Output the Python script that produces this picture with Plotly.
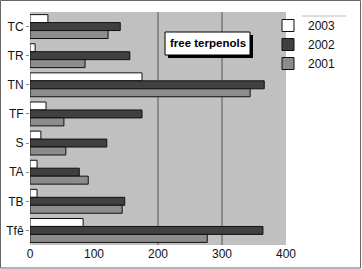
import plotly.graph_objects as go

categories = ["TC", "TR", "TN", "TF", "S", "TA", "TB", "Tfê"]
v2003 = [28, 8, 175, 25, 17, 11, 11, 83]
v2002 = [141, 156, 366, 175, 120, 77, 148, 364]
v2001 = [122, 86, 344, 53, 56, 91, 144, 277]
x_ticks = [0, 100, 200, 300, 400]

W, H = 362, 269
L, R, T, B = 30, 76, 12, 24
pw, ph = W - L - R, H - T - B

fig = go.Figure()
for name, vals, col in [("2003", v2003, "#ffffff"), ("2002", v2002, "#404040"), ("2001", v2001, "#8c8c8c")]:
    fig.add_trace(go.Bar(y=categories, x=vals, name=name, orientation="h",
                         marker=dict(color=col, line=dict(color="#111111", width=1))))

def px_x(p):
    return (p - L) / pw

def px_y(p):
    return (H - B - p) / ph

shapes = []
for g in [200, 300]:
    shapes.append(dict(type="line", xref="x", yref="paper", x0=g, x1=g, y0=0, y1=1,
                       line=dict(color="#555555", width=1), layer="below"))
# outer border
shapes.append(dict(type="rect", xref="paper", yref="paper", x0=px_x(0.5), x1=px_x(360.5),
                   y0=px_y(268), y1=px_y(0.5), line=dict(color="#666666", width=1)))
# label shadow
shapes.append(dict(type="rect", xref="paper", yref="paper", x0=px_x(168), x1=px_x(253),
                   y0=px_y(58), y1=px_y(35), fillcolor="#000000", line=dict(width=0)))
shapes.append(dict(type="rect", xref="paper", yref="paper", x0=px_x(165), x1=px_x(250),
                   y0=px_y(55), y1=px_y(32), fillcolor="#ffffff", line=dict(color="#000000", width=1)))
# legend top line
shapes.append(dict(type="line", xref="paper", yref="paper", x0=px_x(302), x1=px_x(346),
                   y0=px_y(16), y1=px_y(16), line=dict(color="#bbbbbb", width=1)))

fig.update_layout(
    width=W, height=H,
    margin=dict(l=L, r=R, t=T, b=B, pad=0, autoexpand=False),
    paper_bgcolor="white", plot_bgcolor="#c0c0c0",
    barmode="group", bargap=0.18, bargroupgap=0,
    font=dict(family="Liberation Sans, Arial, sans-serif", size=12, color="#111111"),
    xaxis=dict(range=[0, 400], tickvals=x_ticks, showgrid=False, zeroline=False,
               ticks="", tickfont=dict(size=12), automargin=False),
    yaxis=dict(autorange="reversed", showgrid=False, ticks="outside", ticklen=3,
               tickcolor="#888888", tickfont=dict(size=12), automargin=False),
    legend=dict(xref="container", yref="container", x=268 / W, y=1 - 11 / H,
                xanchor="left", yanchor="top",
                bgcolor="rgba(0,0,0,0)", font=dict(size=12), itemwidth=30,
                tracegroupgap=0),
    shapes=shapes,
    annotations=[dict(text="<b>free terpenols</b>", xref="paper", yref="paper",
                      x=px_x(207.5), y=px_y(43.5), showarrow=False,
                      xanchor="center", yanchor="middle",
                      font=dict(size=11.5, color="#000000"))],
    showlegend=True,
)
fig.write_html("out.html")
